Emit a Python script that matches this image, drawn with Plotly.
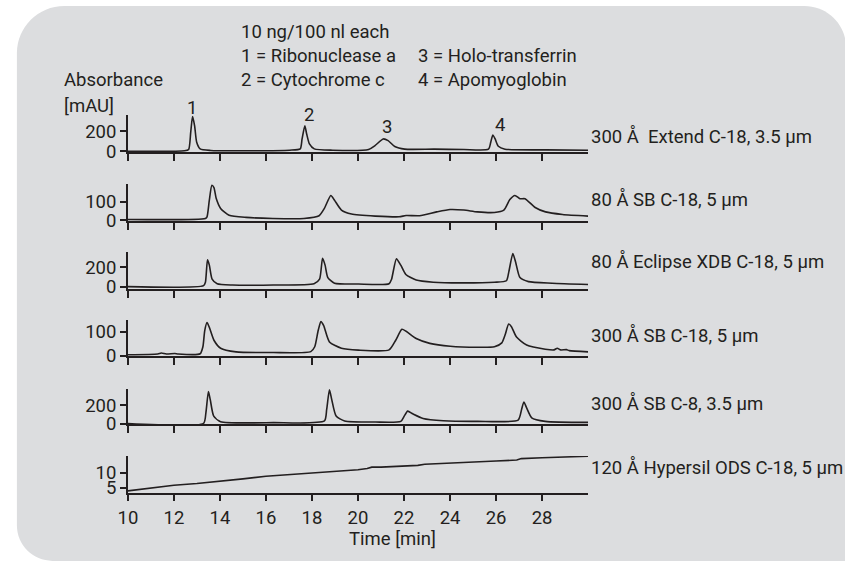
import plotly.graph_objects as go

# ---------------- data ----------------
time_axis_ticks = [10, 12, 14, 16, 18, 20, 22, 24, 26, 28]

p1_t = [10, 12.46, 12.64, 12.73, 12.81, 12.9, 12.99, 13.14, 13.6, 15.31, 17.03, 17.49, 17.57, 17.69, 17.77, 17.89, 18.1,
        18.89, 20.46, 20.74, 21.1, 21.31, 21.6, 22.03, 23.31, 24.6, 25.67, 25.77, 25.86, 25.96, 26.1, 26.39, 28.17, 30]
p1_v = [3, 7, 20, 190, 348, 256, 92, 26, 10, 7, 13, 26, 125, 256, 174, 75, 26,
        13, 20, 59, 125, 108, 49, 23, 23, 20, 23, 92, 164, 125, 52, 23, 16, 13]

p2_t = [10, 13.37, 13.44, 13.54, 13.65, 13.74, 13.84, 14.03, 14.4, 15.14, 16.3, 17.65, 18.31, 18.54, 18.82, 18.98, 19.28,
        19.72, 20.76, 21.79, 22.09, 22.68, 23.42, 24.0, 24.6, 25.19, 25.93, 26.34, 26.6, 26.82, 27.04, 27.26, 27.7, 28.15,
        28.89, 30]
p2_v = [3.6, 9, 18, 109, 191, 178, 118, 64, 27, 15, 9, 9, 24, 64, 135, 109, 55,
        33, 22, 18, 25, 24, 45, 58, 55, 45, 42, 55, 113, 135, 117, 117, 69, 45,
        31, 22]

p3_t = [10, 13.29, 13.37, 13.46, 13.54, 13.66, 13.88, 14.55, 16.32, 18.09, 18.33, 18.46, 18.57, 18.69, 18.98, 20.02,
        21.35, 21.46, 21.67, 21.86, 22.08, 22.53, 23.27, 24.45, 25.93, 26.45, 26.56, 26.73, 26.85, 27.04, 27.41, 28.44, 30]
p3_v = [3, 13, 48, 276, 222, 79, 32, 19, 19, 32, 79, 292, 222, 95, 38, 29,
        32, 79, 286, 222, 127, 70, 48, 41, 48, 63, 159, 340, 254, 95, 54, 38, 25]

p4_t = [10, 11.3, 11.45, 11.67, 12.04, 12.18, 13.14, 13.26, 13.34, 13.44, 13.54, 13.74, 14.03, 14.7, 16.32, 17.95,
        18.12, 18.27, 18.39, 18.51, 18.76, 19.28, 20.02, 21.35, 21.64, 21.91, 22.09, 22.53, 23.12, 24.01, 25.19, 25.93,
        26.25, 26.4, 26.55, 26.67, 26.89, 27.33, 28.14, 28.52, 28.66, 28.81, 29.06, 29.18, 30]
p4_v = [4, 7, 11, 7, 9, 7, 8, 37, 104, 137, 117, 64, 31, 16, 13, 17,
        37, 104, 141, 124, 57, 31, 23, 24, 64, 109, 101, 71, 51, 39, 35, 37,
        53, 88, 131, 120, 77, 44, 27, 24, 31, 24, 25, 21, 16]

p5_t = [10, 13.29, 13.39, 13.5, 13.58, 13.73, 14.03, 16.32, 18.54, 18.64, 18.76, 18.86, 19.05, 19.42, 20.76, 21.86,
        22.01, 22.16, 22.38, 22.83, 23.71, 25.19, 26.96, 27.11, 27.21, 27.33, 27.55, 28.14, 30]
p5_v = [0, 4, 118, 350, 261, 82, 21, 11, 29, 154, 368, 261, 82, 29, 18, 25,
        82, 136, 107, 57, 32, 25, 39, 154, 236, 171, 64, 25, 14]

p6_t = [10, 11, 12, 13, 14, 15, 16, 17, 18, 19, 20, 20.4, 20.6, 21, 22, 22.6, 22.9, 24, 25, 26, 26.9, 27.1, 28, 29, 30]
p6_v = [3.9, 4.9, 5.8, 6.4, 7.1, 8.0, 8.9, 9.4, 10.0, 10.5, 11.1, 11.5, 12.0, 12.0, 12.3, 12.6, 13.0, 13.3, 13.7,
        14.1, 14.4, 14.9, 15.2, 15.5, 15.7]

column_names = ["300 Å  Extend C-18, 3.5 µm", "80 Å SB C-18, 5 µm", "80 Å Eclipse XDB C-18, 5 µm",
                "300 Å SB C-18, 5 µm", "300 Å SB C-8, 3.5 µm", "120 Å Hypersil ODS C-18, 5 µm"]
y_tickvals = [[0, 200], [0, 100], [0, 200], [0, 100], [0, 200], [5, 10]]
y_ranges = [[-7, 361], [-5.5, 200], [-19, 356], [-3, 147], [-7, 379], [3.33, 15.8]]

peak_labels = ["1", "2", "3", "4"]
peak_label_t = [12.77, 17.86, 21.24, 26.17]

legend_lines = ["10 ng/100 nl each", "1 = Ribonuclease a", "2 = Cytochrome c", "3 = Holo-transferrin", "4 = Apomyoglobin"]

# ---------------- layout helpers ----------------
W, H = 845, 566
FONT = "Roboto, Liberation Sans, sans-serif"
INK = "#231f20"
FS = 18.5

def px(x):
    return x / W

def py(y):
    return 1 - y / H

panel_top = [117.5, 187.2, 257.0, 326.5, 396.5, 465.0]
panel_axis = [155.2, 225.5, 294.5, 363.5, 432.7, 502.3]
label_y = [139.3, 203.3, 266.7, 341.7, 411.7, 476.7]
x_left, x_right = 119.3, 585.0

series = [(p1_t, p1_v), (p2_t, p2_v), (p3_t, p3_v), (p4_t, p4_v), (p5_t, p5_v), (p6_t, p6_v)]

fig = go.Figure()
layout = dict(
    width=W, height=H,
    margin=dict(l=0, r=0, t=0, b=0),
    paper_bgcolor="white",
    plot_bgcolor="rgba(0,0,0,0)",
    showlegend=False,
    font=dict(family=FONT, size=FS, color=INK),
)

for i, (t, v) in enumerate(series):
    n = i + 1
    xa = "x" if n == 1 else f"x{n}"
    ya = "y" if n == 1 else f"y{n}"
    fig.add_trace(go.Scatter(
        x=t, y=v, mode="lines", xaxis=xa, yaxis=ya,
        line=dict(color=INK, width=1.6, shape="spline" if n < 6 else "linear", smoothing=0.6),
        hoverinfo="skip",
    ))
    layout["xaxis" if n == 1 else f"xaxis{n}"] = dict(
        domain=[px(x_left), px(x_right)], range=[10, 30], anchor=ya,
        tickvals=time_axis_ticks, ticks="outside", ticklen=7, tickwidth=1.5, tickcolor=INK,
        showline=True, linewidth=1.6, linecolor=INK, showgrid=False, zeroline=False,
        showticklabels=(n == 6), tickfont=dict(family=FONT, size=FS, color=INK),
    )
    layout["yaxis" if n == 1 else f"yaxis{n}"] = dict(
        domain=[py(panel_axis[i]), py(panel_top[i])], range=y_ranges[i], anchor=xa,
        tickvals=y_tickvals[i], ticks="outside", ticklen=6, tickwidth=1.5, tickcolor=INK,
        showline=True, linewidth=1.6, linecolor=INK, showgrid=False, zeroline=False,
        tickfont=dict(family=FONT, size=FS, color=INK),
    )

annotations = []
for i, name in enumerate(column_names):
    annotations.append(dict(text=name, xref="paper", yref="paper", x=px(586), y=py(label_y[i]),
                            xanchor="left", yanchor="middle", showarrow=False,
                            font=dict(family=FONT, size=FS, color=INK)))

peak_label_y = [110, 117.7, 130, 127.3]
for lab, t, yy in zip(peak_labels, peak_label_t, peak_label_y):
    annotations.append(dict(text=lab, xref="x", yref="paper", x=t, y=py(yy),
                            xanchor="center", yanchor="middle", showarrow=False,
                            font=dict(family=FONT, size=FS, color=INK)))

annotations.append(dict(text="Absorbance", xref="paper", yref="paper", x=px(53), y=py(82),
                        xanchor="left", yanchor="middle", showarrow=False))
annotations.append(dict(text="[mAU]", xref="paper", yref="paper", x=px(53), y=py(108),
                        xanchor="left", yanchor="middle", showarrow=False))
legend_xy = [(232, 33), (232, 57), (232, 82), (411, 57), (411, 82)]
for txt, (lx, ly) in zip(legend_lines, legend_xy):
    annotations.append(dict(text=txt, xref="paper", yref="paper", x=px(lx), y=py(ly),
                            xanchor="left", yanchor="middle", showarrow=False))
annotations.append(dict(text="Time [min]", xref="paper", yref="paper", x=px(387), y=py(550),
                        xanchor="center", yanchor="middle", showarrow=False))
layout["annotations"] = annotations

# rounded grey background panel
k = 0.5523
L, T, R, B = 7.0, 6.0, 846.0, 572.0
r1, r2, r3 = 48.0, 42.0, 36.0
def P(x, y):
    return f"{px(x):.5f},{py(y):.5f}"
path = (f"M {P(L, T + r1)} C {P(L, T + r1 - k*r1)} {P(L + r1 - k*r1, T)} {P(L + r1, T)} "
        f"L {P(R - r2, T)} C {P(R - r2 + k*r2, T)} {P(R, T + r2 - k*r2)} {P(R, T + r2)} "
        f"L {P(R, B)} L {P(L + r3, B)} C {P(L + r3 - k*r3, B)} {P(L, B - r3 + k*r3)} {P(L, B - r3)} Z")
layout["shapes"] = [dict(type="path", xref="paper", yref="paper", path=path,
                         fillcolor="#dcdddf", line=dict(width=0), layer="below")]

fig.update_layout(**layout)

page_fix = (
    "var gd=document.getElementById('{plot_id}');"
    "document.documentElement.style.margin='0';document.documentElement.style.padding='0';"
    "document.documentElement.style.overflow='hidden';document.documentElement.style.height='566px';"
    "document.body.style.margin='0';document.body.style.padding='0';"
    "document.body.style.overflow='hidden';document.body.style.height='566px';"
    "if(gd&&gd.parentElement){gd.parentElement.style.height='566px';gd.parentElement.style.overflow='hidden';}"
)
fig.write_html("out.html", config={"displayModeBar": False}, post_script=page_fix)
